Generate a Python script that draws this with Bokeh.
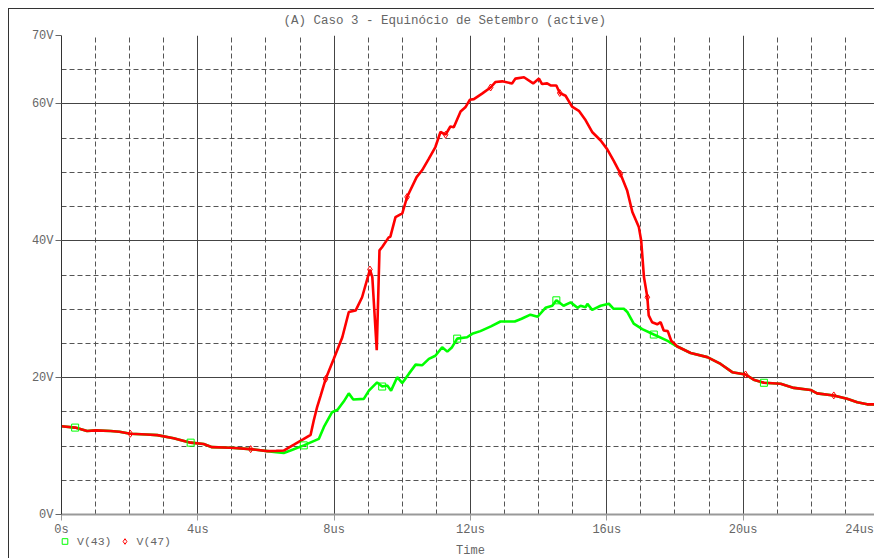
import numpy as np
from bokeh.plotting import figure
from bokeh.layouts import column
from bokeh.models import Range1d, FixedTicker, Legend, LegendItem, Label
from bokeh.embed import file_html
from bokeh.resources import INLINE

FONT = "Liberation Mono"
TXT = "#666666"

# ---- data (time in us, voltage in V) ----
# start: both nodes coincide
t_start = [0.0, 0.4, 0.75, 1.0, 1.44, 1.7, 2.02, 2.5, 2.81, 3.29, 3.79, 4.17, 4.42, 4.96, 5.55, 6.04]
v_start = [12.9, 12.7, 12.2, 12.3, 12.2, 12.1, 11.8, 11.7, 11.6, 11.15, 10.5, 10.3, 9.84, 9.75, 9.55, 9.26]

# V(47) middle part
t_v47_mid = [6.3, 6.52, 6.82, 7.1, 7.31, 7.4, 7.5, 7.6, 7.75, 7.99, 8.24, 8.43, 8.63, 8.82, 9.05,
             9.12, 9.25, 9.33, 9.41, 9.6, 9.65, 9.8, 10.0, 10.14, 10.42, 10.58, 10.78, 10.97, 11.12,
             11.27, 11.41, 11.51, 11.71, 11.85, 11.98, 12.1, 12.34, 12.59, 12.73, 12.93, 13.22,
             13.32, 13.57, 13.84, 14.01, 14.1, 14.25, 14.35, 14.52, 14.62, 14.79, 14.98, 15.18,
             15.38, 15.57, 15.82, 16.01, 16.2, 16.4, 16.6, 16.75, 16.94, 17.01, 17.09, 17.19,
             17.23, 17.33, 17.48, 17.58, 17.67, 17.79, 17.89, 18.02]
v_v47_mid = [9.3, 9.35, 10.2, 11.0, 11.65, 13.7, 15.7, 17.3, 19.8, 22.75, 25.9, 29.6, 29.8, 31.75, 35.8,
             34.7, 24.0, 38.6, 39.1, 40.5, 40.6, 43.45, 44.0, 46.4, 49.3, 50.3, 52.0, 53.7, 55.9,
             55.5, 56.7, 56.6, 58.9, 59.5, 60.6, 60.7, 61.5, 62.4, 63.2, 63.3, 63.0,
             63.7, 63.9, 63.0, 63.7, 62.9, 63.0, 62.7, 62.7, 61.6, 61.2, 59.6, 59.0,
             57.6, 55.9, 54.65, 53.4, 51.7, 49.8, 47.3, 44.2, 42.0, 40.0, 34.7, 31.75,
             29.1, 28.1, 27.8, 28.1, 26.9, 26.8, 25.4, 24.8]

# V(43) middle part
t_v43_mid = [6.3, 6.52, 6.72, 7.11, 7.55, 7.7, 7.94, 8.1, 8.28, 8.43, 8.56, 8.87, 9.02, 9.26, 9.41,
             9.56, 9.67, 9.85, 10.0, 10.19, 10.39, 10.58, 10.78, 10.97, 11.17, 11.32, 11.46, 11.61,
             11.9, 12.05, 12.29, 12.6, 12.88, 13.3, 13.5, 13.76, 13.97, 14.2, 14.4, 14.52, 14.73,
             14.94, 15.14, 15.23, 15.38, 15.43, 15.57, 15.82, 16.06, 16.2, 16.5, 16.6, 16.79,
             17.04, 17.38, 17.77]
v_v43_mid = [9.1, 9.0, 9.35, 10.1, 11.05, 12.8, 14.95, 15.3, 16.5, 17.7, 16.8, 16.9, 18.1, 19.3, 18.7,
             18.85, 18.1, 20.07, 19.2, 20.55, 21.9, 21.8, 22.75, 23.2, 24.45, 23.8, 24.45, 25.7,
             25.9, 26.4, 26.8, 27.5, 28.2, 28.2, 28.6, 29.2, 28.9, 30.2, 30.5, 31.3, 30.5,
             31.0, 30.2, 30.5, 30.3, 30.8, 29.9, 30.5, 30.8, 30.06, 30.06, 29.6, 27.9,
             27.1, 26.3, 25.4]

# end: both nodes coincide
t_end = [18.07, 18.46, 18.95, 19.34, 19.68, 20.07, 20.31, 20.61, 21.1, 21.49, 21.98, 22.17, 22.66,
         23.05, 23.35, 23.64, 23.86]
v_end = [24.55, 23.6, 23.0, 22.0, 20.8, 20.46, 19.7, 19.25, 19.1, 18.5, 18.2, 17.7, 17.4,
         16.9, 16.4, 16.1, 16.1]

# sample times carrying the trace markers
v43_marker_t = [0.4, 3.79, 7.11, 9.41, 11.61, 14.52, 17.38, 20.61]
v47_marker_t = [2.02, 5.55, 7.75, 9.05, 10.14, 11.27, 12.59, 14.62, 16.4, 17.19, 20.07, 22.66]

x_ticks = [0, 4, 8, 12, 16, 20]
x_tick_labels = ["0s", "4us", "8us", "12us", "16us", "20us"]
x_last_label_pos = 23.42          # "24us" label, pulled in from the cropped right edge
x_last_label = "24us"
x_minor = [1, 2, 3, 5, 6, 7, 9, 10, 11, 13, 14, 15, 17, 18, 19, 21, 22, 23]
y_ticks = [0, 20, 40, 60, 70]
y_tick_labels = ["0V", "20V", "40V", "60V", "70V"]
y_minor = [5, 10, 15, 25, 30, 35, 45, 50, 55, 65]

t43 = t_start + t_v43_mid + t_end
v43 = v_start + v_v43_mid + v_end
t47 = t_start + t_v47_mid + t_end
v47 = v_start + v_v47_mid + v_end

def pick(ts, vs, sel):
    idx = [ts.index(s) for s in sel if s in ts]
    return [ts[i] for i in idx], [vs[i] for i in idx]

m43_t, m43_v = pick(t43, v43, v43_marker_t)
m47_t, m47_v = pick(t47, v47, v47_marker_t)

GREEN = "#00ff00"
RED = "#ff0000"

# ---------------- main plot ----------------
p = figure(width=874, height=540, output_backend="svg", toolbar_location=None,
           x_range=Range1d(0, 23.855), y_range=Range1d(0, 70),
           min_border_left=61, min_border_right=0, min_border_top=35, min_border_bottom=26)
p.styles = {
    "background-image": "linear-gradient(#333,#333), linear-gradient(#333,#333)",
    "background-size": "1px 100%, 100% 1px",
    "background-position": "8px 8px, 8px 8px",
    "background-repeat": "no-repeat",
}
p.border_fill_alpha = 0
p.background_fill_color = "white"
p.outline_line_color = None

p.title.text = "(A) Caso 3 - Equinócio de Setembro (active)"
p.title.align = "left"
p.title.offset = 222
p.title.text_font = FONT
p.title.text_font_size = "12.5px"
p.title.text_font_style = "normal"
p.title.text_color = TXT
p.title.standoff = 16

gx = FixedTicker(ticks=x_ticks, minor_ticks=x_minor)
gy = FixedTicker(ticks=y_ticks, minor_ticks=y_minor)
p.xgrid.ticker = gx
p.ygrid.ticker = gy
for g in (p.xgrid, p.ygrid):
    g.grid_line_color = "#444444"
    g.grid_line_width = 1
    g.minor_grid_line_color = "#555555"
    g.minor_grid_line_dash = "5 3"
    g.minor_grid_line_width = 1

p.xaxis.ticker = FixedTicker(ticks=x_ticks + [x_last_label_pos], minor_ticks=x_ticks)
p.xaxis.major_label_overrides = dict(zip(x_ticks + [x_last_label_pos], x_tick_labels + [x_last_label]))
p.xaxis.major_tick_line_color = None
p.xaxis.major_tick_in = 0
p.xaxis.major_tick_out = 6
p.xaxis.minor_tick_in = 0
p.xaxis.minor_tick_out = 6
p.xaxis.minor_tick_line_color = "#999999"
p.xaxis.axis_line_color = "#999999"
p.xaxis.axis_line_width = 2
p.xaxis.major_label_standoff = 2

p.yaxis.ticker = FixedTicker(ticks=y_ticks, minor_ticks=[])
p.yaxis.major_label_overrides = dict(zip(y_ticks, y_tick_labels))
p.yaxis.major_tick_in = 0
p.yaxis.major_tick_out = 6
p.yaxis.minor_tick_in = 0
p.yaxis.minor_tick_out = 0
p.yaxis.axis_line_color = "#333333"
p.yaxis.major_tick_line_color = "#666666"
p.yaxis.major_label_standoff = 2

for ax in (p.xaxis, p.yaxis):
    ax.major_label_text_font = FONT
    ax.major_label_text_font_size = "12px"
    ax.major_label_text_color = TXT

p.line(t43, v43, line_color=GREEN, line_width=2.6)
p.line(t47, v47, line_color=RED, line_width=2.6)
p.scatter(m43_t, m43_v, marker="square", size=7, fill_color=None, line_color=GREEN, line_width=1)
p.scatter(m47_t, m47_v, marker="diamond", size=7, fill_color=None, line_color=RED, line_width=1)

# ---------------- strip below: legend + axis title ----------------
p2 = figure(width=874, height=30, output_backend="svg", toolbar_location=None,
            x_axis_type=None, y_axis_type=None,
            x_range=Range1d(0, 1), y_range=Range1d(0, 1),
            min_border_left=0, min_border_right=0, min_border_top=0, min_border_bottom=0)
p2.margin = (-12, 0, 0, 0)
p2.border_fill_alpha = 0
p2.background_fill_alpha = 0
p2.outline_line_color = None
p2.grid.visible = False

# legend swatches: one real sample each, lying outside this strip's ranges (not visible)
lg_g = p2.scatter(m43_t[:1], m43_v[:1], marker="square", size=7, fill_color=None,
                  line_color=GREEN, line_width=1)
lg_r = p2.scatter(m47_t[:1], m47_v[:1], marker="diamond", size=7, fill_color=None,
                  line_color=RED, line_width=1)
legend = Legend(items=[LegendItem(label="V(43)", renderers=[lg_g]),
                       LegendItem(label="V(47)", renderers=[lg_r])],
                location=(-4, 10), orientation="horizontal",
                glyph_width=15, glyph_height=14, label_height=12, label_standoff=5, spacing=5,
                padding=0, margin=0, border_line_color=None, background_fill_alpha=0,
                label_text_font=FONT, label_text_font_size="11.5px", label_text_color=TXT)
p2.add_layout(legend, "center")
p2.add_layout(Label(x=409, y=8, x_units="screen", y_units="screen", text="Time",
                    text_align="center", text_baseline="middle", text_font=FONT,
                    text_font_size="12px", text_color=TXT))

layout = column(p, p2, spacing=0)
layout.styles = {
    "background-image": "linear-gradient(#333,#333)",
    "background-size": "1px 100%",
    "background-position": "8px 8px",
    "background-repeat": "no-repeat",
}
open("out.html", "w").write(file_html(layout, INLINE))
